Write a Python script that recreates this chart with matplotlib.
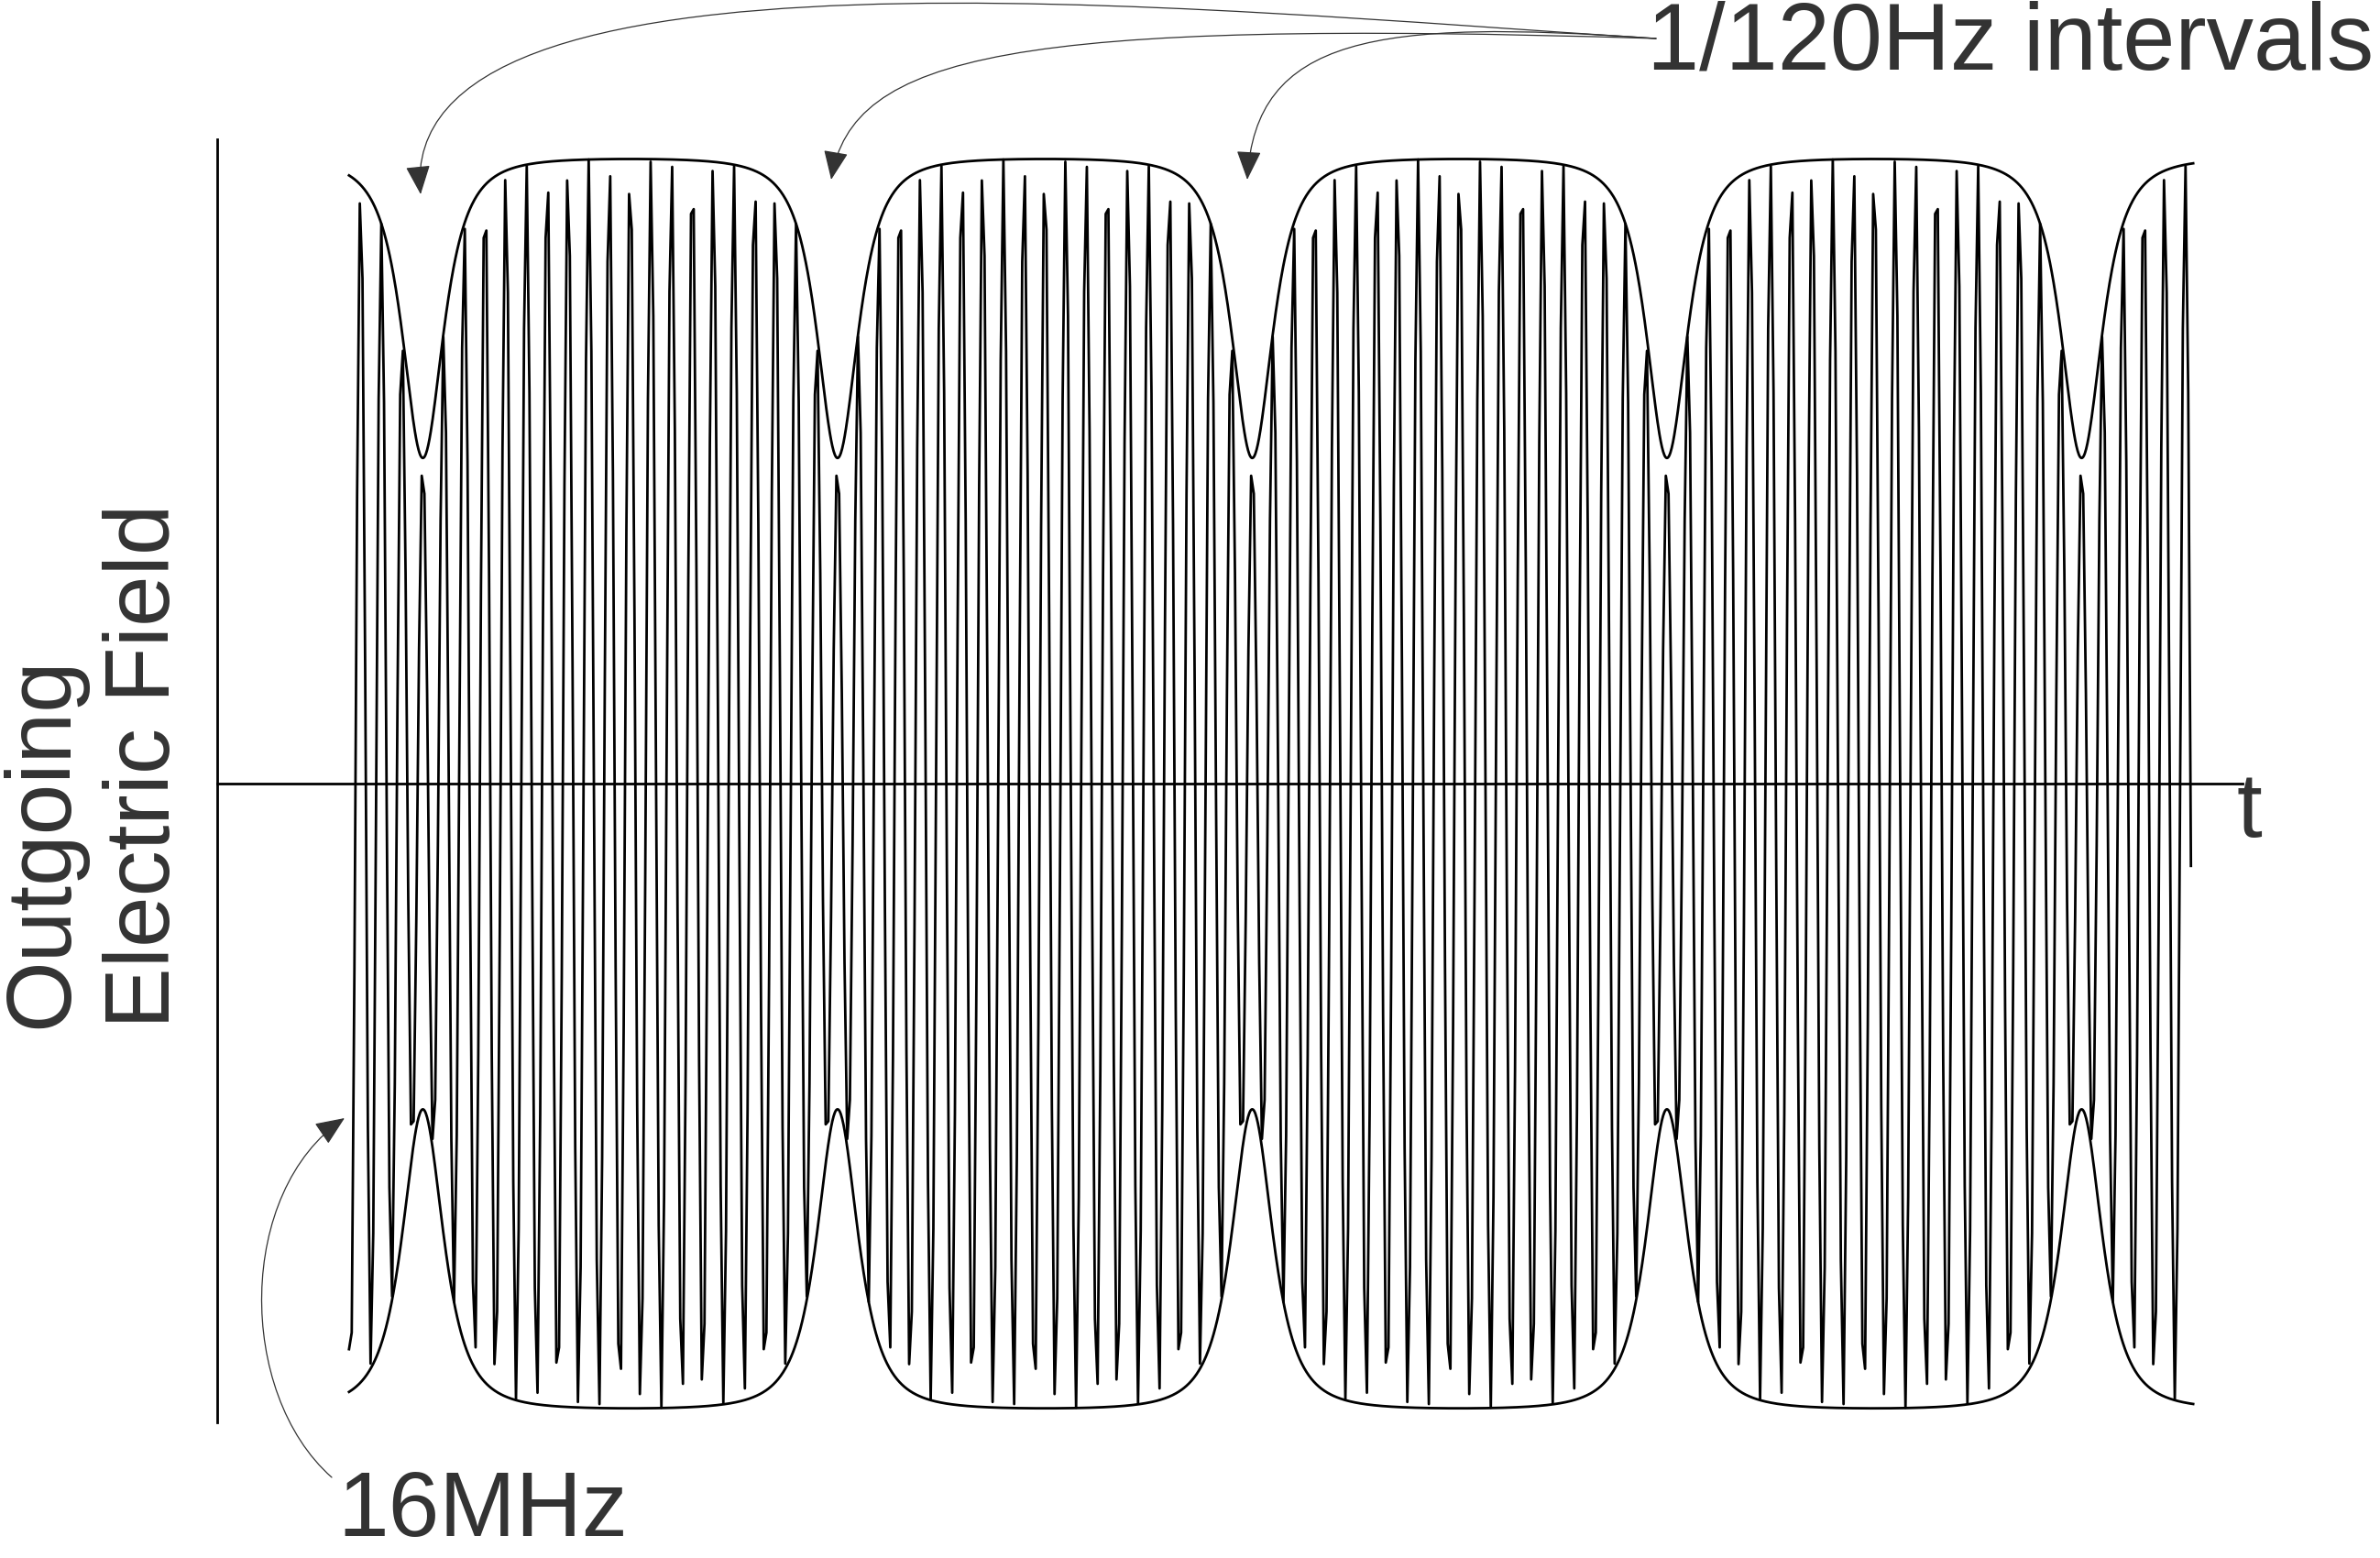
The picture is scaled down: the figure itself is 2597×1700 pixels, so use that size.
import numpy as np
import matplotlib.pyplot as plt
from matplotlib.patches import FancyArrowPatch
from matplotlib.path import Path

plt.rcParams['font.family'] = ['Liberation Sans', 'DejaVu Sans']

# time in units of one 1/120Hz interval, t = 0 at the first dip
t_start = -0.178
t_end = 4.269
dip_times = [-1, 0, 1, 2, 3, 4, 5]
dip_depth = 0.48          # envelope falls to 0.52 at each dip
dip_width = 0.076         # in intervals
carrier_cycles = 20       # carrier cycles drawn per interval
samples_per_cycle = 7.7   # coarse sampling, gives the uneven peak heights

text_color = '#333333'


def envelope(t):
    e = np.ones_like(t)
    for k in dip_times:
        e -= dip_depth / (1 + ((t - k) / dip_width) ** 2) ** 1.5
    return e


W, H = 2597, 1700
fig = plt.figure(figsize=(W / 100, H / 100), dpi=100)

# main axes: left spine is the field axis, bottom spine sits on zero (t axis)
ax = fig.add_axes([237 / W, (H - 1552) / H, (2447 - 237) / W, 1400 / H])
ax.set_xlim(-0.4959, 4.388)
ax.set_ylim(-1.019, 1.028)
for s in ['top', 'right']:
    ax.spines[s].set_visible(False)
ax.spines['left'].set_linewidth(2.0)
ax.spines['bottom'].set_linewidth(2.0)
ax.spines['bottom'].set_position(('data', 0))
ax.set_xticks([])
ax.set_yticks([])
ax.patch.set_visible(False)

t = np.arange(t_start, t_end, 1 / (carrier_cycles * samples_per_cycle))
field = envelope(t) * np.cos(2 * np.pi * carrier_cycles * t)
ax.plot(t, field, color='black', lw=2.0)

te = np.linspace(t_start, t_end, 3000)
ax.plot(te, envelope(te), color='black', lw=2.0)
ax.plot(te, -envelope(te), color='black', lw=2.0)

# overlay in figure pixels for labels and arrows
note = fig.add_axes([0, 0, 1, 1])
note.set_xlim(0, W)
note.set_ylim(H, 0)
note.axis('off')

fs = 72
note.text(1797, 75, '1/120Hz intervals', fontsize=74, color=text_color,
          ha='left', va='baseline')
note.text(368, 1676, '16MHz', fontsize=fs, color=text_color,
          ha='left', va='baseline')
note.text(2441, 913, 't', fontsize=fs, color=text_color,
          ha='left', va='baseline')
note.text(73, 1122, 'Outgoing', fontsize=fs, color=text_color, rotation=90,
          rotation_mode='anchor', ha='left', va='baseline')
note.text(185, 1122, 'Electric Field', fontsize=fs, color=text_color,
          rotation=90, rotation_mode='anchor', ha='left', va='baseline')

curves = [
    [(1807, 42), (1300, 10), (430, -80), (459, 212)],
    [(1807, 42), (1100, 20), (930, 60), (907, 196)],
    [(1807, 42), (1500, 20), (1370, 40), (1361, 196)],
    [(362, 1612), (258, 1520), (258, 1300), (376, 1220)],
]
codes = [Path.MOVETO, Path.CURVE4, Path.CURVE4, Path.CURVE4]
for pts in curves:
    arr = FancyArrowPatch(path=Path(pts, codes),
                          arrowstyle='-|>,head_length=0.4,head_width=0.17',
                          mutation_scale=50, lw=0.9, color=text_color,
                          transform=note.transData)
    note.add_patch(arr)

fig.savefig('out.png', dpi=100)
